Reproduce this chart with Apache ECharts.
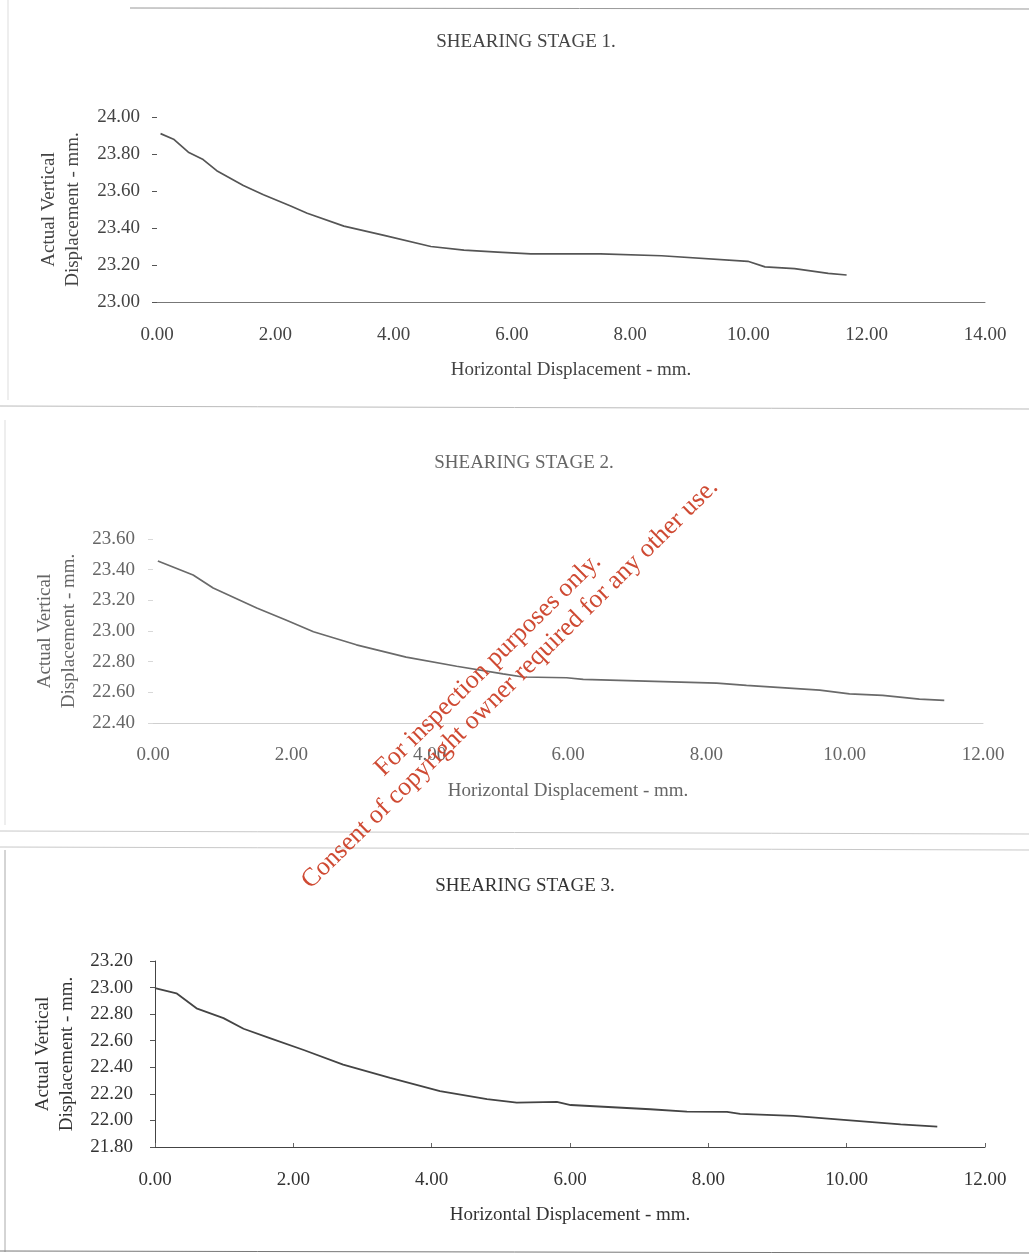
<!DOCTYPE html>
<html>
<head>
<meta charset="utf-8">
<script src="https://cdn.jsdelivr.net/npm/echarts@6/dist/echarts.min.js"></script>
<style>
html,body{margin:0;padding:0;background:#fff;}
#main{width:1029px;height:1256px;}
</style>
</head>
<body>
<div id="main"></div>
<script>
// ---- Data ----
var titles = ['SHEARING STAGE 1.', 'SHEARING STAGE 2.', 'SHEARING STAGE 3.'];
var xAxisName = 'Horizontal Displacement - mm.';
var yAxisName = 'Actual Vertical\nDisplacement - mm.';

var stage1X = [0.06,0.28,0.53,0.78,1.01,1.46,1.80,2.25,2.54,3.16,3.84,4.63,5.19,5.76,6.32,7.50,8.53,9.99,10.28,10.78,11.35,11.66];
var stage1Y = [23.91,23.88,23.81,23.77,23.71,23.63,23.58,23.52,23.48,23.41,23.36,23.30,23.28,23.27,23.26,23.26,23.25,23.22,23.19,23.18,23.155,23.146];

var stage2X = [0.07,0.58,0.87,1.50,1.93,2.32,2.94,3.66,4.39,5.06,5.35,5.98,6.22,8.15,8.58,9.64,10.07,10.55,11.08,11.44];
var stage2Y = [23.456,23.365,23.28,23.15,23.07,22.995,22.91,22.83,22.77,22.72,22.70,22.695,22.685,22.66,22.645,22.615,22.59,22.58,22.556,22.548];

var stage3X = [0.00,0.31,0.60,0.99,1.28,1.66,2.15,2.72,3.40,4.12,4.80,5.23,5.81,6.01,7.16,7.69,8.27,8.46,9.23,9.82,10.78,11.31];
var stage3Y = [22.995,22.957,22.844,22.77,22.69,22.62,22.53,22.42,22.32,22.22,22.16,22.134,22.14,22.116,22.084,22.066,22.064,22.05,22.034,22.01,21.97,21.953];

var xRanges = [[0,14],[0,12],[0,12]];
var yRanges = [[23.0,24.0],[22.4,23.6],[21.8,23.2]];
var watermark = ['For inspection purposes only.', 'Consent of copyright owner required for any other use.'];

// ---- Build option ----
function zip(xs, ys){ return xs.map(function(x,i){ return [x, ys[i]]; }); }
var FONT = "'Liberation Serif','DejaVu Serif',serif";
var FS = 19;
var grids = [
  {left:157, right:44, top:117, height:185},
  {left:153, right:46, top:539, height:184},
  {left:155, right:44, top:961, height:186}
];
var txtColors = ['#444','#666','#333'];
var lineColors = ['#555','#6a6a6a','#444'];
var titleTops = [33, 454, 877];
var titleLefts = [526, 524, 525];
var xLabelMargins = [24, 23, 24];
var yLabelMargins = [17, 18, 22];
var yNameGaps = [72, 71, 75];

var option = {
  backgroundColor:'#fff',
  animation:false,
  title: titles.map(function(t,i){
    return {text:t, left:titleLefts[i], top:titleTops[i], textAlign:'center', padding:0,
      textStyle:{fontFamily:FONT, fontSize:FS, fontWeight:'normal', color:txtColors[i]}};
  }),
  grid: grids,
  xAxis: [0,1,2].map(function(i){
    return {
      type:'value', gridIndex:i, min:xRanges[i][0], max:xRanges[i][1], interval:2,
      name:xAxisName, nameLocation:'middle', nameGap:59,
      nameTextStyle:{fontFamily:FONT, fontSize:FS, color:txtColors[i]},
      axisLine:{show:true, onZero:false, lineStyle:{color: i===0?'#777':(i===1?'#cfcfcf':'#444'), width:1}},
      axisTick:{show:i===2, inside:true, length:4, lineStyle:{color:'#666'}},
      axisLabel:{margin:xLabelMargins[i], fontFamily:FONT, fontSize:FS, color:txtColors[i],
        formatter:function(v){return v.toFixed(2);}},
      splitLine:{show:false}
    };
  }),
  yAxis: [0,1,2].map(function(i){
    return {
      type:'value', gridIndex:i, min:yRanges[i][0], max:yRanges[i][1], interval:0.2,
      name:yAxisName, nameLocation:'middle', nameGap:yNameGaps[i],
      nameTextStyle:{fontFamily:FONT, fontSize:FS, color:txtColors[i], lineHeight:24},
      axisLine:{show:i===2, lineStyle:{color:'#444', width:1}},
      axisTick:{show:true, length:5, lineStyle:{color: i===1?'#d8d8d8':'#555'}},
      axisLabel:{margin:yLabelMargins[i], fontFamily:FONT, fontSize:FS, color:txtColors[i],
        formatter:function(v){return v.toFixed(2);}},
      splitLine:{show:false}
    };
  }),
  series: [
    {type:'line', xAxisIndex:0, yAxisIndex:0, data:zip(stage1X, stage1Y), showSymbol:false, lineStyle:{color:lineColors[0], width:1.7}},
    {type:'line', xAxisIndex:1, yAxisIndex:1, data:zip(stage2X, stage2Y), showSymbol:false, lineStyle:{color:lineColors[1], width:1.7}},
    {type:'line', xAxisIndex:2, yAxisIndex:2, data:zip(stage3X, stage3Y), showSymbol:false, lineStyle:{color:lineColors[2], width:1.8}}
  ],
  graphic: [
    // scanned panel frame lines
    {type:'line', shape:{x1:130,y1:8,x2:1029,y2:9}, style:{stroke:'#999', lineWidth:1}, silent:true},
    {type:'line', shape:{x1:8,y1:0,x2:8,y2:400}, style:{stroke:'#ddd', lineWidth:1}, silent:true},
    {type:'line', shape:{x1:0,y1:406,x2:1029,y2:409}, style:{stroke:'#bbb', lineWidth:1}, silent:true},
    {type:'line', shape:{x1:5,y1:420,x2:5,y2:825}, style:{stroke:'#ddd', lineWidth:1}, silent:true},
    {type:'line', shape:{x1:0,y1:831,x2:1029,y2:834}, style:{stroke:'#c8c8c8', lineWidth:1}, silent:true},
    {type:'line', shape:{x1:0,y1:847,x2:1029,y2:850}, style:{stroke:'#c8c8c8', lineWidth:1}, silent:true},
    {type:'line', shape:{x1:5,y1:850,x2:5,y2:1252}, style:{stroke:'#aaa', lineWidth:1}, silent:true},
    {type:'line', shape:{x1:0,y1:1251,x2:1029,y2:1253}, style:{stroke:'#777', lineWidth:1}, silent:true},
    // watermark
    {type:'text', x:488, y:665, rotation:44.5*Math.PI/180, silent:true, z:100,
      style:{text:watermark[0], x:0, y:0, align:'center', verticalAlign:'middle',
        font:"26px 'Liberation Serif', serif", fill:'#cf4a33'}},
    {type:'text', x:510, y:684, rotation:44.5*Math.PI/180, silent:true, z:100,
      style:{text:watermark[1], x:0, y:0, align:'center', verticalAlign:'middle',
        font:"26px 'Liberation Serif', serif", fill:'#cf4a33'}}
  ]
};

var chart = echarts.init(document.getElementById('main'), null, {renderer:'canvas'});
chart.setOption(option);
</script>
</body>
</html>
